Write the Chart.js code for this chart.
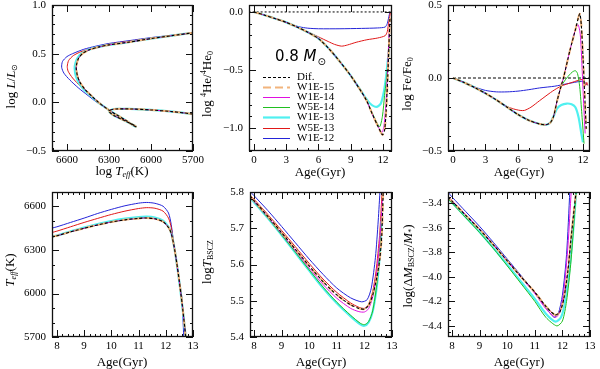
<!DOCTYPE html>
<html>
<head>
<meta charset="utf-8">
<script src="https://cdn.jsdelivr.net/npm/chart.js@4.4.0/dist/chart.umd.min.js"></script>
<style>
  body { margin: 0; background: #fff; }
  #wrap { position: relative; width: 600px; height: 369px; background: #fff; overflow: hidden; }
  #wrap canvas { position: absolute; }
  .t { position: absolute; font-family: "Liberation Serif", serif; font-size: 13px; color: #000; white-space: nowrap; transform: translate(-50%, -50%); }
  .t.v { transform: translate(-50%, -50%) rotate(-90deg); }
  .t sub { font-size: 8px; vertical-align: -2px; }
  .t sup { font-size: 8px; vertical-align: 5px; }
</style>
</head>
<body>
<div id="wrap">
  <canvas id="c1"></canvas><canvas id="c2"></canvas><canvas id="c3"></canvas>
  <canvas id="c4"></canvas><canvas id="c5"></canvas><canvas id="c6"></canvas>

  <div class="t" style="left:122px;top:171px">log <i>T</i><sub><i>eff</i></sub>(K)</div>
  <div class="t" style="left:320px;top:172px">Age(Gyr)</div>
  <div class="t" style="left:519px;top:172px">Age(Gyr)</div>
  <div class="t" style="left:122px;top:362px">Age(Gyr)</div>
  <div class="t" style="left:321px;top:362px">Age(Gyr)</div>
  <div class="t" style="left:519px;top:362px">Age(Gyr)</div>

  <div class="t v" style="left:11px;top:86px">log <i>L</i>/<i>L</i><sub>⊙</sub></div>
  <div class="t v" style="left:207px;top:84px">log <sup>4</sup>He/<sup>4</sup>He<sub>0</sub></div>
  <div class="t v" style="left:407px;top:84px">log Fe/Fe<sub>0</sub></div>
  <div class="t v" style="left:10px;top:270px"><i>T</i><sub><i>eff</i></sub>(K)</div>
  <div class="t v" style="left:207px;top:262px">log<i>T</i><sub>BSCZ</sub></div>
  <div class="t v" style="left:408px;top:266px">log(Δ<i>M</i><sub>BSCZ</sub>/<i>M</i><sub>*</sub>)</div>
</div>
<script>
// series names, in legend order
const SERIES = ['Dif.', 'W1E-15', 'W1E-14', 'W5E-14', 'W1E-13', 'W5E-13', 'W1E-12'];
const MASS = '0.8';

// HR diagram: [Teff, log L/Lsun]
const hrPms = [[5700,-0.12],[5850,-0.095],[6000,-0.078],[6150,-0.068],[6250,-0.068],[6290,-0.08],[6296,-0.1],[6265,-0.135],[6200,-0.18],[6150,-0.215],[6112,-0.243],[6108,-0.25],[6128,-0.236],[6185,-0.18],[6250,-0.125],[6300,-0.08]];
const hrDif = [[6340,-0.04],[6375,0.0],[6420,0.06],[6470,0.13],[6505,0.2],[6525,0.27],[6534,0.35],[6530,0.40],[6518,0.45],[6490,0.50],[6440,0.54],[6370,0.57],[6300,0.59],[6150,0.62],[6000,0.655],[5850,0.685],[5700,0.715]];
const hrCyan = [[6340,-0.04],[6378,0.0],[6425,0.06],[6478,0.13],[6515,0.2],[6537,0.27],[6545,0.35],[6540,0.40],[6527,0.45],[6498,0.50],[6445,0.54],[6372,0.57],[6300,0.59],[6150,0.62],[6000,0.655],[5850,0.685],[5700,0.715]];
const hrRed = [[6340,-0.035],[6370,0.0],[6430,0.07],[6500,0.16],[6560,0.25],[6592,0.32],[6598,0.37],[6588,0.43],[6555,0.48],[6500,0.52],[6420,0.555],[6300,0.598],[6150,0.628],[6000,0.66],[5850,0.688],[5700,0.715]];
const hrBlue = [[6345,-0.03],[6386,0.0],[6450,0.07],[6520,0.15],[6580,0.23],[6622,0.30],[6638,0.36],[6632,0.42],[6600,0.47],[6560,0.50],[6480,0.545],[6400,0.575],[6300,0.605],[6150,0.635],[6000,0.665],[5850,0.69],[5700,0.715]];

// surface helium: [age, log 4He/4He0]
const heDif = [[0,0],[1,-0.028],[2,-0.058],[3,-0.09],[4,-0.13],[5,-0.175],[6,-0.23],[7,-0.32],[8,-0.43],[9,-0.55],[10,-0.69],[10.5,-0.77],[11,-0.88],[11.5,-0.98],[11.95,-1.06],[12.15,-1.02],[12.3,-0.85],[12.45,-0.55],[12.55,-0.3],[12.65,-0.05]];
const heMag = [[0,0],[1,-0.028],[2,-0.058],[3,-0.09],[4,-0.13],[5,-0.175],[6,-0.23],[7,-0.32],[8,-0.43],[9,-0.55],[10,-0.69],[10.5,-0.77],[11,-0.88],[11.5,-0.98],[11.9,-1.04],[12.1,-0.98],[12.3,-0.75],[12.45,-0.45],[12.6,-0.1]];
const heGreen = [[0,0],[1,-0.028],[2,-0.058],[3,-0.09],[4,-0.13],[5,-0.175],[6,-0.23],[7,-0.32],[8,-0.43],[9,-0.55],[10,-0.69],[10.5,-0.77],[11,-0.87],[11.4,-0.95],[11.7,-0.99],[11.95,-0.9],[12.15,-0.72],[12.3,-0.6],[12.45,-0.45],[12.55,-0.3]];
const heCyan = [[0,0],[1,-0.028],[2,-0.058],[3,-0.09],[4,-0.13],[5,-0.175],[6,-0.23],[7,-0.32],[8,-0.43],[9,-0.55],[9.8,-0.66],[10.3,-0.73],[10.8,-0.79],[11.4,-0.82],[11.8,-0.79],[12.1,-0.68],[12.3,-0.55],[12.45,-0.42],[12.55,-0.33]];
const heRed = [[0,0],[1,-0.028],[2,-0.058],[3,-0.09],[4,-0.13],[5,-0.17],[6,-0.215],[6.9,-0.255],[7.5,-0.28],[8.15,-0.295],[8.7,-0.285],[9.5,-0.262],[10.5,-0.24],[11.5,-0.225],[12.2,-0.205],[12.4,-0.17],[12.55,-0.08],[12.7,0]];
const heBlue = [[0,0],[1,-0.028],[2,-0.058],[2.85,-0.084],[3.5,-0.108],[4.2,-0.128],[5,-0.14],[6,-0.145],[8,-0.145],[10,-0.142],[11.5,-0.138],[12.2,-0.13],[12.4,-0.1],[12.55,-0.04],[12.65,0]];
const heRef = [[-0.5,0],[12.9,0]];

// surface iron: [age, log Fe/Fe0]
const feDif = [[0,0],[1,-0.03],[2,-0.065],[3,-0.105],[4,-0.15],[5,-0.2],[6,-0.25],[7,-0.29],[8,-0.315],[8.6,-0.32],[9,-0.305],[9.3,-0.26],[9.6,-0.16],[10,-0.05],[10.2,0],[10.8,0.19],[11.3,0.33],[11.7,0.44],[11.85,0.36],[12.0,0.15],[12.15,-0.1],[12.3,-0.35]];
const feMag = [[0,0],[1,-0.03],[2,-0.065],[3,-0.105],[4,-0.15],[5,-0.2],[6,-0.25],[7,-0.29],[8,-0.315],[8.6,-0.32],[9,-0.305],[9.3,-0.26],[9.6,-0.16],[10,-0.05],[10.2,0],[10.8,0.19],[11.3,0.33],[11.55,0.365],[11.75,0.3],[11.9,0.1],[12.05,-0.15],[12.2,-0.38]];
const feGreen = [[0,0],[1,-0.03],[2,-0.065],[3,-0.105],[4,-0.15],[5,-0.2],[6,-0.25],[7,-0.29],[8,-0.315],[8.6,-0.32],[9,-0.305],[9.3,-0.26],[9.6,-0.16],[10,-0.056],[10.5,0.0],[11.0,0.04],[11.3,0.05],[11.5,0.03],[11.7,-0.06],[11.9,-0.25],[12.1,-0.45]];
const feCyan = [[0,0],[1,-0.03],[2,-0.065],[3,-0.105],[4,-0.15],[5,-0.2],[6,-0.25],[7,-0.29],[8,-0.315],[8.6,-0.32],[9,-0.305],[9.3,-0.26],[9.6,-0.21],[10,-0.185],[10.5,-0.175],[10.95,-0.18],[11.3,-0.2],[11.6,-0.27],[11.85,-0.38],[12.0,-0.44]];
const feRed = [[0,0],[1,-0.03],[2,-0.065],[3,-0.105],[4,-0.15],[5,-0.195],[5.6,-0.212],[6.2,-0.222],[6.6,-0.222],[7.2,-0.2],[8,-0.155],[9,-0.1],[9.4,-0.08],[10,-0.055],[11,-0.03],[11.9,-0.01],[12.1,-0.02],[12.25,-0.05],[12.35,-0.03],[12.45,-0.05]];
const feBlue = [[0,0],[1,-0.03],[2,-0.062],[3,-0.085],[4,-0.095],[5,-0.095],[6,-0.09],[7,-0.08],[8,-0.068],[9.4,-0.056],[10.5,-0.04],[11.9,-0.022],[12.2,-0.03],[12.4,-0.05]];
const feRef = [[0,0],[12.6,0]];

// effective temperature: [age, Teff]
const tDif = [[7.8,6390],[8,6398],[8.5,6425],[9,6450],[9.5,6473],[10,6493],[10.5,6508],[11,6518],[11.3,6521],[11.6,6515],[11.9,6495],[12.1,6455],[12.2,6415],[12.3,6330],[12.4,6215],[12.5,6080],[12.6,5930],[12.7,5760],[12.73,5700]];
const tCyan = [[7.8,6392],[8,6400],[8.5,6428],[9,6455],[9.5,6479],[10,6500],[10.5,6516],[11,6527],[11.3,6530],[11.6,6524],[11.9,6503],[12.1,6460],[12.2,6418],[12.3,6330],[12.4,6212],[12.5,6075],[12.6,5925],[12.7,5755],[12.73,5700]];
const tRed = [[7.8,6420],[8,6430],[8.5,6460],[9,6490],[9.5,6518],[10,6545],[10.5,6568],[11,6586],[11.3,6592],[11.6,6588],[11.9,6568],[12.1,6520],[12.2,6455],[12.3,6335],[12.4,6210],[12.5,6095],[12.6,5950],[12.7,5760],[12.74,5700]];
const tBlue = [[7.8,6450],[8,6460],[8.5,6490],[9,6520],[9.5,6552],[10,6580],[10.5,6605],[11,6623],[11.3,6628],[11.6,6622],[11.9,6602],[12.1,6555],[12.2,6475],[12.3,6335],[12.4,6200],[12.5,6075],[12.58,5990],[12.63,5830],[12.66,5700]];

// base of surface convection zone temperature: [age, log T_BSCZ]
const bDif = [[7.85,5.789],[8,5.776],[8.5,5.733],[9,5.688],[9.5,5.642],[10,5.596],[10.5,5.553],[11,5.516],[11.5,5.489],[11.8,5.479],[12.0,5.477],[12.15,5.487],[12.3,5.515],[12.45,5.565],[12.55,5.61],[12.63,5.68],[12.68,5.8]];
const bMag = [[7.85,5.787],[8,5.774],[8.5,5.731],[9,5.685],[9.5,5.638],[10,5.59],[10.5,5.545],[11,5.507],[11.5,5.479],[11.8,5.47],[12.0,5.469],[12.15,5.478],[12.3,5.51],[12.45,5.58],[12.57,5.68],[12.65,5.78]];
const bGreen = [[7.85,5.786],[8,5.773],[8.5,5.729],[9,5.682],[9.5,5.634],[10,5.585],[10.5,5.538],[11,5.496],[11.5,5.46],[11.85,5.438],[12.0,5.434],[12.15,5.442],[12.3,5.472],[12.45,5.545],[12.55,5.63],[12.63,5.75]];
const bCyan = [[7.85,5.785],[8,5.772],[8.5,5.728],[9,5.681],[9.5,5.632],[10,5.583],[10.5,5.535],[11,5.493],[11.5,5.457],[11.85,5.435],[12.0,5.431],[12.15,5.44],[12.3,5.47],[12.45,5.54],[12.55,5.62],[12.62,5.72]];
const bRed = [[7.85,5.792],[8,5.78],[8.5,5.738],[9,5.694],[9.5,5.649],[10,5.603],[10.5,5.56],[11,5.523],[11.5,5.494],[11.8,5.482],[12.0,5.479],[12.15,5.49],[12.3,5.525],[12.42,5.58],[12.55,5.68],[12.64,5.8]];
const bBlue = [[7.85,5.802],[8,5.79],[8.5,5.749],[9,5.705],[9.5,5.66],[10,5.615],[10.5,5.573],[11,5.535],[11.5,5.508],[11.9,5.497],[12.1,5.503],[12.25,5.535],[12.4,5.62],[12.5,5.72],[12.57,5.81]];

// convection zone mass: [age, log(dM_BSCZ/M*)]
const mDif = [[7.85,-3.35],[8,-3.385],[8.5,-3.5],[9,-3.615],[9.5,-3.74],[10,-3.87],[10.5,-4.0],[11,-4.125],[11.4,-4.24],[11.73,-4.31],[11.9,-4.29],[12.05,-4.18],[12.2,-3.95],[12.3,-3.72],[12.4,-3.5],[12.5,-3.3]];
const mMag = [[7.85,-3.34],[8,-3.38],[8.5,-3.495],[9,-3.612],[9.5,-3.738],[10,-3.87],[10.5,-4.005],[11,-4.135],[11.4,-4.26],[11.75,-4.33],[11.9,-4.29],[12.05,-4.12],[12.2,-3.75],[12.32,-3.3]];
const mGreen = [[7.85,-3.365],[8,-3.4],[8.5,-3.52],[9,-3.64],[9.5,-3.77],[10,-3.91],[10.5,-4.055],[11,-4.2],[11.4,-4.33],[11.8,-4.4],[12.0,-4.36],[12.15,-4.2],[12.3,-3.9],[12.42,-3.55],[12.5,-3.3]];
const mCyan = [[7.85,-3.36],[8,-3.395],[8.5,-3.515],[9,-3.635],[9.5,-3.765],[10,-3.9],[10.5,-4.04],[11,-4.18],[11.4,-4.3],[11.75,-4.365],[11.95,-4.33],[12.1,-4.2],[12.25,-3.95],[12.4,-3.6],[12.5,-3.3]];
const mBlue = [[7.85,-3.31],[8,-3.35],[8.5,-3.47],[9,-3.59],[9.5,-3.72],[10,-3.855],[10.5,-3.99],[11,-4.13],[11.4,-4.25],[11.7,-4.33],[11.85,-4.3],[12.0,-4.15],[12.15,-3.82],[12.27,-3.3]];

// tick labels
const hrXTicks = [5700, 6000, 6300, 6600];
const hrYTicks = [-0.5, 0.0, 0.5, 1.0];
const ageTicksTop = [0, 3, 6, 9, 12];
const heYTicks = [-1.0, -0.5, 0.0];
const feYTicks = [-0.5, 0.0, 0.5];
const ageTicksBot = [8, 9, 10, 11, 12, 13];
const tYTicks = [5700, 6000, 6300, 6600];
const bYTicks = [5.4, 5.5, 5.6, 5.7, 5.8];
const mYTicks = [-4.4, -4.2, -4.0, -3.8, -3.6, -3.4];

// line styles, same order as SERIES
const COLORS = ['#000000', '#f2b47c', '#e010e0', '#20c020', '#50f0f0', '#e01818', '#2424d8'];
const WIDTHS = [1.1, 2, 1, 1, 2.2, 1, 1];
const DASHES = [[3, 2], [8, 4], [], [], [], [], []];

Chart.defaults.font.family = '"Liberation Serif", serif';
Chart.defaults.font.size = 11;
Chart.defaults.color = '#000';

const pts = arr => arr.map(([x, y]) => ({ x, y }));
const neg = s => s.replace('-', '\u2212');

function series(list) {
    return list.map((arr, i) => ({
        label: SERIES[i],
        data: pts(arr),
        borderColor: COLORS[i],
        borderWidth: WIDTHS[i],
        borderDash: DASHES[i],
        showLine: true,
        pointRadius: 0,
        tension: 0.25,
    }));
}

function refLine(arr, dash) {
    return {
        label: '',
        data: pts(arr),
        borderColor: '#000',
        borderWidth: 1,
        borderDash: dash,
        showLine: true,
        pointRadius: 0,
    };
}

// frame with inward major and minor ticks on all four sides
const frameTicks = {
    id: 'frameTicks',
    afterDatasetsDraw(chart, args, o) {
        const { ctx, chartArea: a, scales: { x, y } } = chart;
        const steps = (min, max, step, cb) => {
            const lo = Math.min(min, max), hi = Math.max(min, max);
            for (let i = Math.ceil(lo / step - 1e-6); i * step <= hi + 1e-9; i++) cb(+(i * step).toFixed(6));
        };
        ctx.save();
        ctx.strokeStyle = '#111';
        ctx.lineWidth = 1;
        ctx.setLineDash([]);
        ctx.beginPath();
        const xt = (v, len) => {
            const p = Math.round(x.getPixelForValue(v)) + 0.5;
            ctx.moveTo(p, a.bottom); ctx.lineTo(p, a.bottom - len);
            ctx.moveTo(p, a.top); ctx.lineTo(p, a.top + len);
        };
        const yt = (v, len) => {
            const p = Math.round(y.getPixelForValue(v)) + 0.5;
            ctx.moveTo(a.left, p); ctx.lineTo(a.left + len, p);
            ctx.moveTo(a.right, p); ctx.lineTo(a.right - len, p);
        };
        steps(x.min, x.max, o.xMinor, v => xt(v, 3));
        steps(y.min, y.max, o.yMinor, v => yt(v, 3));
        x.ticks.forEach(t => xt(t.value, 7));
        y.ticks.forEach(t => yt(t.value, 7));
        ctx.stroke();
        ctx.lineWidth = 1.3;
        ctx.strokeRect(Math.round(a.left) + 0.5, Math.round(a.top) + 0.5,
            Math.round(a.right - a.left) - 1, Math.round(a.bottom - a.top) - 1);
        ctx.restore();
    },
};

// legend drawn inside the plot of the helium panel
const inLegend = {
    id: 'inLegend',
    afterDatasetsDraw(chart, args, o) {
        if (!o.show) return;
        const { ctx, chartArea: a } = chart;
        ctx.save();
        ctx.fillStyle = '#000';
        ctx.textBaseline = 'middle';
        ctx.font = '15px "DejaVu Sans", sans-serif';
        let mx = a.left + 26;
        const my = a.top + 52;
        ctx.fillText(MASS + ' ', mx, my);
        mx += ctx.measureText(MASS + ' ').width;
        ctx.font = 'italic 15px "DejaVu Sans", sans-serif';
        ctx.fillText('M', mx, my);
        mx += ctx.measureText('M').width;
        ctx.font = '10px "DejaVu Sans", sans-serif';
        ctx.fillText('\u2299', mx + 1, my + 5);

        ctx.font = '11px "Liberation Serif", serif';
        let k = 0;
        chart.data.datasets.forEach(ds => {
            if (!ds.label) return;
            const yy = Math.round(a.top + 72 + k * 10.1) + 0.5;
            ctx.beginPath();
            ctx.strokeStyle = ds.borderColor;
            ctx.lineWidth = ds.borderWidth;
            ctx.setLineDash(ds.borderDash || []);
            ctx.moveTo(a.left + 14, yy);
            ctx.lineTo(a.left + 41, yy);
            ctx.stroke();
            ctx.fillText(ds.label, a.left + 48, yy);
            k++;
        });
        ctx.restore();
    },
};

Chart.register(frameTicks, inLegend);

function axis(min, max, ticks, fmt, isX, extra) {
    return Object.assign({
        type: 'linear',
        min, max,
        grid: { display: false, drawTicks: false },
        border: { display: false },
        ticks: {
            padding: isX ? 3 : 6,
            maxRotation: 0,
            autoSkip: false,
            callback: v => neg(fmt(v)),
        },
        afterBuildTicks: s => { s.ticks = ticks.map(v => ({ value: v })); },
        afterFit: s => {
            if (isX) { s.height = 22; s.paddingLeft = 0; s.paddingRight = 0; }
            else { s.width = 52; s.paddingTop = 0; s.paddingBottom = 0; }
        },
    }, extra || {});
}

const f0 = v => String(v);
const f1 = v => v.toFixed(1);

// plot rectangles on the page: [left, top, width, height]
const PANELS = [
    ['c1', [52, 5, 141, 146]], ['c2', [249, 5, 143, 146]], ['c3', [448, 5, 142, 146]],
    ['c4', [52, 192, 141, 145]], ['c5', [250, 192, 142, 145]], ['c6', [448, 192, 142, 145]],
];
const PAD_TOP = 10, PAD_RIGHT = 16, Y_W = 52, X_H = 22;

function makeChart(idx, datasets, xs, ys, minor, legend) {
    const [id, r] = PANELS[idx];
    const cv = document.getElementById(id);
    cv.width = r[2] + Y_W + PAD_RIGHT;
    cv.height = r[3] + PAD_TOP + X_H;
    cv.style.left = (r[0] - Y_W) + 'px';
    cv.style.top = (r[1] - PAD_TOP) + 'px';
    return new Chart(cv.getContext('2d'), {
        type: 'scatter',
        data: { datasets },
        options: {
            responsive: false,
            animation: false,
            devicePixelRatio: 1,
            layout: { padding: { top: PAD_TOP, right: PAD_RIGHT, left: 0, bottom: 0 } },
            plugins: {
                legend: { display: false },
                tooltip: { enabled: false },
                frameTicks: minor,
                inLegend: { show: !!legend },
            },
            scales: { x: xs, y: ys },
        },
    });
}

const withPms = arr => hrPms.concat(arr);

makeChart(0,
    series([withPms(hrDif), withPms(hrDif), withPms(hrDif), withPms(hrDif), withPms(hrCyan), withPms(hrRed), withPms(hrBlue)]),
    axis(5700, 6707, hrXTicks, f0, true, { reverse: true }),
    axis(-0.5, 1.0, hrYTicks, f1, false),
    { xMinor: 100, yMinor: 0.1 });

makeChart(1,
    series([heDif, heDif, heMag, heGreen, heCyan, heRed, heBlue]).concat([refLine(heRef, [2, 2])]),
    axis(-0.465, 12.84, ageTicksTop, f0, true),
    axis(-1.2, 0.06, heYTicks, f1, false),
    { xMinor: 1, yMinor: 0.1 }, true);

makeChart(2,
    series([feDif, feDif, feMag, feGreen, feCyan, feRed, feBlue]).concat([refLine(feRef, [3, 2])]),
    axis(-0.46, 12.65, ageTicksTop, f0, true),
    axis(-0.5, 0.5, feYTicks, f1, false),
    { xMinor: 1, yMinor: 0.1 });

makeChart(3,
    series([tDif, tDif, tDif, tDif, tCyan, tRed, tBlue]),
    axis(7.82, 13, ageTicksBot, f0, true),
    axis(5700, 6700, tYTicks, f0, false),
    { xMinor: 0.2, yMinor: 100 });

makeChart(4,
    series([bDif, bDif, bMag, bGreen, bCyan, bRed, bBlue]),
    axis(7.855, 13, ageTicksBot, f0, true),
    axis(5.4, 5.8, bYTicks, f1, false),
    { xMinor: 0.2, yMinor: 0.02 });

makeChart(5,
    series([mDif, mDif, mMag, mGreen, mCyan, mDif, mBlue]),
    axis(7.855, 13, ageTicksBot, f0, true),
    axis(-4.49, -3.31, mYTicks, f1, false),
    { xMinor: 0.2, yMinor: 0.05 });
</script>
</body>
</html>
